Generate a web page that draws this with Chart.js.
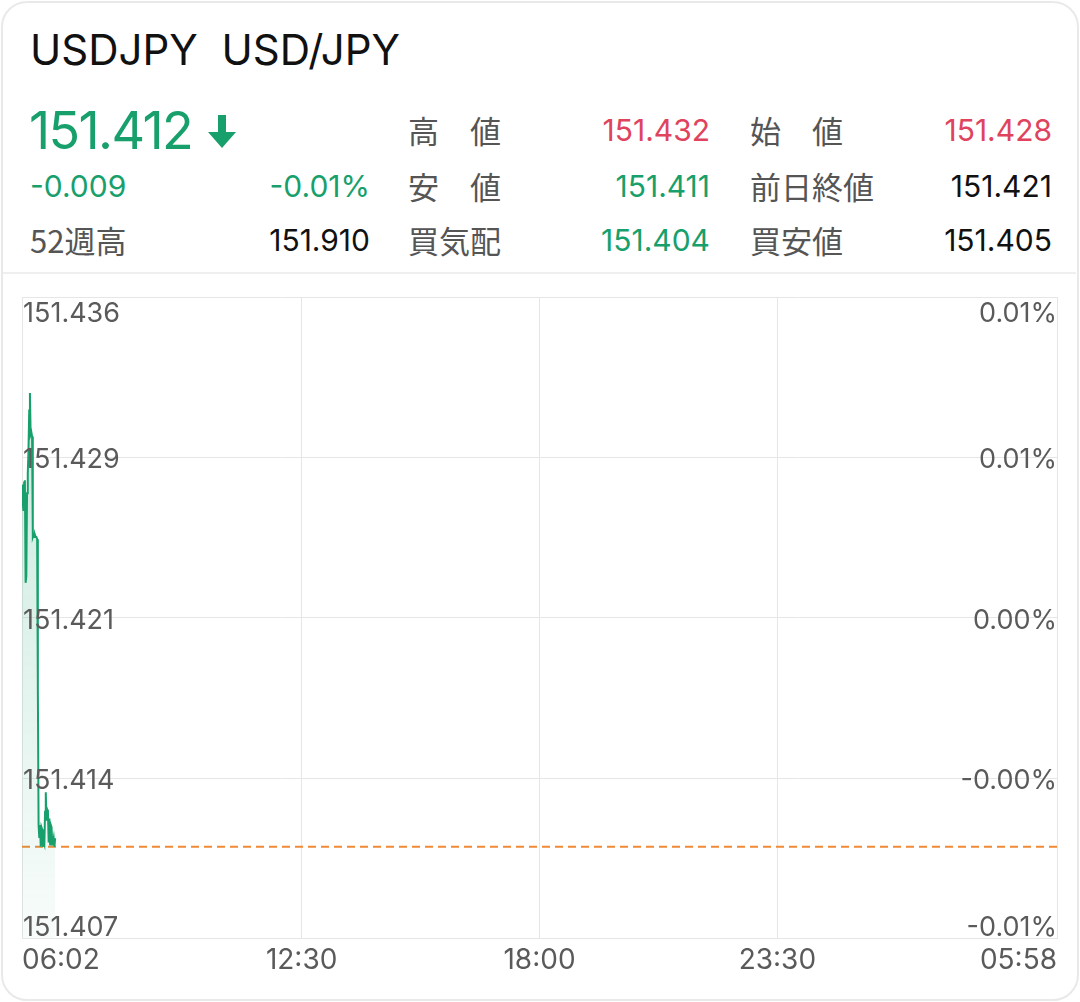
<!DOCTYPE html>
<html>
<head>
<meta charset="utf-8">
<script src="https://cdn.jsdelivr.net/npm/chart.js@4.4.1/dist/chart.umd.min.js"></script>
<style>
body { margin: 0; width: 1080px; height: 1002px; background: #fff; overflow: hidden;
       font-family: Inter, "Noto Sans CJK JP", sans-serif; }
.card { position: absolute; left: 1px; top: 1px; width: 1074px; height: 996px;
        border: 2px solid #e9e9e9; border-radius: 26px; }
.t { position: absolute; line-height: 40px; white-space: nowrap; }
.lbl { color: #555; font-size: 31px; font-family: "Noto Sans CJK JP", sans-serif; }
.num { font-size: 30px; text-align: right; }
.green { color: #17a06c; }
.red { color: #e0435d; }
.black { color: #111; }
.sep { position: absolute; left: 3px; top: 272px; width: 1073px; height: 2px; background: #efefef; }
#wrap { position: absolute; left: 0; top: 280px; width: 1080px; height: 710px; }
</style>
</head>
<body>
<div class="card"></div>
<div class="t black" style="left:30px;top:27px;font-size:42px;line-height:46px;">USDJPY&nbsp; USD/JPY</div>

<div class="t green" style="left:29px;top:104px;font-size:52px;line-height:54px;letter-spacing:-1.6px;">151.412</div>
<svg style="position:absolute;left:208px;top:115px" width="28" height="34" viewBox="0 0 28 34">
  <rect x="10" y="0" width="8" height="20" fill="#17a06c"/>
  <polygon points="0,17 28,17 14,33" fill="#17a06c"/>
</svg>

<div class="t lbl" style="left:408px;top:110px;">高　値</div>
<div class="t num red" style="right:370px;top:110px;">151.432</div>
<div class="t lbl" style="left:750px;top:110px;">始　値</div>
<div class="t num red" style="right:28px;top:110px;">151.428</div>

<div class="t num green" style="left:30px;top:166px;text-align:left;">-0.009</div>
<div class="t num green" style="right:710px;top:166px;">-0.01%</div>
<div class="t lbl" style="left:408px;top:166px;">安　値</div>
<div class="t num green" style="right:370px;top:166px;">151.411</div>
<div class="t lbl" style="left:750px;top:166px;">前日終値</div>
<div class="t num black" style="right:28px;top:166px;">151.421</div>

<div class="t lbl" style="left:30px;top:220px;">52週高</div>
<div class="t num black" style="right:710px;top:220px;">151.910</div>
<div class="t lbl" style="left:408px;top:220px;">買気配</div>
<div class="t num green" style="right:370px;top:220px;">151.404</div>
<div class="t lbl" style="left:750px;top:220px;">買安値</div>
<div class="t num black" style="right:28px;top:220px;">151.405</div>

<div class="sep"></div>

<div id="wrap"><canvas id="chart"></canvas></div>

<script>
// minutes since 06:02
let times = [0, 1, 2, 3, 4, 5, 6, 7, 8, 9, 10, 11, 12, 13, 14, 15, 16, 17, 18, 19, 20, 21, 22, 23,
             24, 25, 26, 27, 28, 29, 30, 31, 32, 33, 34, 35, 36, 37, 38, 39, 40, 41, 42, 43, 44, 45, 46];
let prices = [151.4274, 151.4266, 151.4262, 151.4275, 151.4276, 151.4229, 151.4232, 151.4270,
              151.4279, 151.4290, 151.4308, 151.4316, 151.4297, 151.4298, 151.4296, 151.4250,
              151.4251, 151.4250, 151.4251, 151.4250, 151.4250, 151.4249, 151.4180, 151.4118,
              151.4112, 151.4118, 151.4108, 151.4117, 151.4116, 151.4108, 151.4110, 151.4109,
              151.4124, 151.4133, 151.4120, 151.4125, 151.4124, 151.4110, 151.4121, 151.4109,
              151.4118, 151.4117, 151.4109, 151.4110, 151.4112, 151.4108, 151.4112];

let xTickMinutes = [0, 388, 718, 1048, 1436];
let xTickLabels = ['06:02', '12:30', '18:00', '23:30', '05:58'];
let yTicks = [151.4066, 151.41395, 151.4213, 151.42865, 151.436];
let prevClose = 151.421;
let refPrice = 151.4108;

let green = '#17a06c';
let gridColor = '#e6e6e6';
let labelColor = '#5a5a5a';

let linePoints = times.map(function (t, i) { return { x: t, y: prices[i] }; });
let refPoints = [{ x: xTickMinutes[0], y: refPrice }, { x: xTickMinutes[xTickMinutes.length - 1], y: refPrice }];

// y labels sit inside the plot, top and bottom ones pulled in
let yLabelPlugin = {
    id: 'yLabels',
    afterDraw: function (chart) {
        let ctx = chart.ctx;
        let area = chart.chartArea;
        let scale = chart.scales.y;
        ctx.save();
        ctx.font = '27px Inter, sans-serif';
        ctx.fillStyle = labelColor;
        ctx.textBaseline = 'middle';
        yTicks.forEach(function (v, i) {
            let y = scale.getPixelForValue(v) + 3;
            if (i === yTicks.length - 1) y = area.top + 17;
            if (i === 0) y = area.bottom - 11;
            ctx.textAlign = 'left';
            ctx.fillText(v.toFixed(3), area.left + 1, y);
            let pct = (v - prevClose) / prevClose * 100;
            let txt = pct.toFixed(2) + '%';
            if (pct < 0 && txt === '0.00%') txt = '-0.00%';
            ctx.textAlign = 'right';
            ctx.fillText(txt, area.right, y);
        });
        ctx.restore();
    }
};

var ctx = document.getElementById('chart').getContext('2d');
var chart = new Chart(ctx, {
    type: 'line',
    data: {
        datasets: [{
            data: linePoints,
            borderColor: green,
            borderWidth: 2,
            pointRadius: 0,
            tension: 0,
            fill: 'start',
            backgroundColor: function (context) {
                let c = context.chart;
                if (!c.chartArea) return null;
                let g = c.ctx.createLinearGradient(0, c.chartArea.top, 0, c.chartArea.bottom);
                g.addColorStop(0, 'rgba(23,160,108,0.26)');
                g.addColorStop(1, 'rgba(23,160,108,0.03)');
                return g;
            }
        }, {
            data: refPoints,
            borderColor: '#f08a36',
            borderWidth: 2,
            borderDash: [8, 5],
            pointRadius: 0,
            fill: false
        }]
    },
    options: {
        responsive: true,
        maintainAspectRatio: false,
        animation: false,
        layout: { padding: { left: 22, right: 15, top: 17, bottom: 8 } },
        plugins: { legend: { display: false }, tooltip: { enabled: false } },
        scales: {
            x: {
                type: 'linear',
                min: xTickMinutes[0],
                max: xTickMinutes[xTickMinutes.length - 1],
                afterBuildTicks: function (scale) {
                    scale.ticks = xTickMinutes.map(function (v) { return { value: v }; });
                },
                ticks: {
                    callback: function (v, i) { return xTickLabels[i]; },
                    align: 'inner',
                    autoSkip: false,
                    maxRotation: 0,
                    padding: 5,
                    color: labelColor,
                    font: { family: 'Inter', size: 28 }
                },
                grid: { color: gridColor, drawTicks: false },
                border: { color: gridColor }
            },
            y: {
                min: yTicks[0],
                max: yTicks[yTicks.length - 1],
                afterBuildTicks: function (scale) {
                    scale.ticks = yTicks.map(function (v) { return { value: v }; });
                },
                ticks: { display: false },
                grid: { color: gridColor, drawTicks: false },
                border: { color: gridColor }
            },
            y2: {
                position: 'right',
                min: yTicks[0],
                max: yTicks[yTicks.length - 1],
                ticks: { display: false },
                grid: { display: false },
                border: { color: gridColor }
            }
        }
    },
    plugins: [yLabelPlugin]
});
</script>
</body>
</html>
